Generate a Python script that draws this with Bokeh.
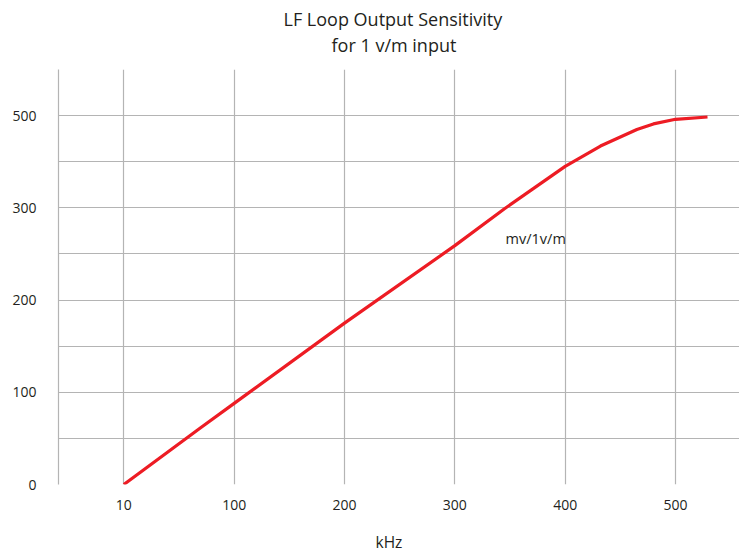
from bokeh.plotting import figure
from bokeh.models import FixedTicker, Label, Range1d, Title
from bokeh.embed import file_html
from bokeh.resources import INLINE

# Data (x: evenly spaced grid positions, each 100 = one labelled column)
x_tick_values = [0, 100, 200, 300, 400, 500]
x_tick_labels = ["10", "100", "200", "300", "400", "500"]
y_tick_values = [0, 100, 200, 300, 400]
y_tick_labels = ["0", "100", "200", "300", "500"]

curve_x = [0, 69, 100, 200, 300, 345, 400, 432, 465, 480, 500, 529]
curve_y = [0, 61, 88, 175, 259, 299, 345, 367, 385, 391, 396, 398.5]

title_line1 = "LF Loop Output Sensitivity"
title_line2 = "for 1 v/m input"
x_title = "kHz"
series_label = "mv/1v/m"

FONT = "Open Sans"
TEXT = "#231f20"
GRID = "#b4b4b4"

p = figure(width=739, height=552,
           x_range=Range1d(-59.2, 558), y_range=Range1d(0, 450),
           output_backend="svg", toolbar_location=None,
           min_border_left=58, min_border_right=0,
           min_border_top=69, min_border_bottom=67)
p.title.text = ""
p.outline_line_color = None
p.background_fill_color = "white"
p.border_fill_color = "white"

# two title lines, line 2 nearest the frame
p.add_layout(Title(text=title_line2, align="left", offset=273, text_font=FONT,
                   text_font_size="18px", text_font_style="normal",
                   text_color=TEXT, standoff=0,
                   padding=dict(left=0, right=0, top=0, bottom=13)), "above")
p.add_layout(Title(text=title_line1, align="left", offset=225, text_font=FONT,
                   text_font_size="18px", text_font_style="normal",
                   text_color=TEXT, standoff=0), "above")

p.xgrid.ticker = FixedTicker(ticks=x_tick_values)
p.ygrid.ticker = FixedTicker(ticks=list(range(0, 451, 50)))
for g in (p.xgrid[0], p.ygrid[0]):
    g.grid_line_color = GRID
    g.grid_line_width = 1.2

p.xaxis.ticker = FixedTicker(ticks=x_tick_values)
p.xaxis.major_label_overrides = {v: l for v, l in zip(x_tick_values, x_tick_labels)}
p.yaxis.ticker = FixedTicker(ticks=y_tick_values)
p.yaxis.major_label_overrides = {v: l for v, l in zip(y_tick_values, y_tick_labels)}

for ax in (p.xaxis[0], p.yaxis[0]):
    ax.major_tick_line_color = None
    ax.minor_tick_line_color = None
    ax.major_label_text_font = FONT
    ax.major_label_text_font_size = "14px"
    ax.major_label_text_color = TEXT
p.xaxis.axis_line_color = None
p.yaxis.axis_line_color = GRID
p.yaxis.axis_line_width = 1.2
p.xaxis.major_label_standoff = 9
p.yaxis.major_label_standoff = 16

p.add_layout(Title(text=x_title, align="left", offset=317, text_font=FONT,
                   text_font_size="15.5px", text_font_style="normal",
                   text_color=TEXT, standoff=0,
                   padding=dict(left=0, right=0, top=16, bottom=0)), "below")

p.line(curve_x, curve_y, line_color="#ed1c24", line_width=3.2)

p.add_layout(Label(x=346.0, y=267.0, text=series_label, text_align="left",
                   text_baseline="alphabetic", text_font=FONT,
                   text_font_size="14.5px", text_color=TEXT))

open("out.html", "w").write(file_html(p, INLINE))
